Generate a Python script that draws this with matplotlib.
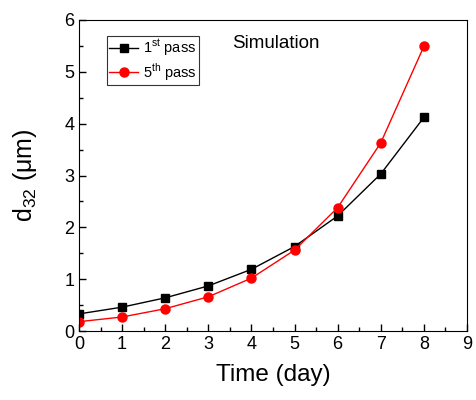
import matplotlib
matplotlib.use('Agg')
import matplotlib.pyplot as plt
from matplotlib.ticker import MultipleLocator

plt.rcParams['font.family'] = ['Liberation Sans', 'DejaVu Sans']
plt.rcParams['mathtext.fontset'] = 'custom'
plt.rcParams['mathtext.rm'] = 'Liberation Sans'

##data
days = [0, 1, 2, 3, 4, 5, 6, 7, 8]
pass_1 = [0.33, 0.46, 0.64, 0.87, 1.19, 1.63, 2.22, 3.03, 4.12]
pass_5 = [0.18, 0.27, 0.43, 0.66, 1.02, 1.56, 2.38, 3.63, 5.49]

fig = plt.figure(figsize=(4.76, 4.0), dpi=100)
ax = fig.add_axes([0.166, 0.1725, 0.815, 0.7775])

ax.plot(days, pass_1, color='black', marker='s', markersize=6, linewidth=1,
        label='1$^{\\mathrm{st}}$ pass')
ax.plot(days, pass_5, color='red', marker='o', markersize=6.5, linewidth=1,
        label='5$^{\\mathrm{th}}$ pass')

ax.set_xlim(0, 9)
ax.set_ylim(0, 6)
ax.xaxis.set_major_locator(MultipleLocator(1))
ax.xaxis.set_minor_locator(MultipleLocator(0.5))
ax.yaxis.set_major_locator(MultipleLocator(1))
ax.yaxis.set_minor_locator(MultipleLocator(0.5))
ax.tick_params(which='both', direction='in', labelsize=13, width=1)
ax.tick_params(which='major', length=5)
ax.tick_params(which='minor', length=3)

ax.set_xlabel('Time (day)', fontsize=17.5, labelpad=8)
ax.set_ylabel('d$_{32}$ (μm)', fontsize=18, labelpad=18)

ax.text(0.395, 0.925, 'Simulation', transform=ax.transAxes, fontsize=13.5,
        va='center', ha='left')
leg = ax.legend(loc='upper left', bbox_to_anchor=(0.072, 0.95), fontsize=10.5,
                frameon=True, fancybox=False, edgecolor='black',
                handlelength=2.0, handletextpad=0.3, borderpad=0.15,
                labelspacing=0.15, borderaxespad=0)
leg.get_frame().set_linewidth(0.8)

fig.savefig('out.png', dpi=100)
